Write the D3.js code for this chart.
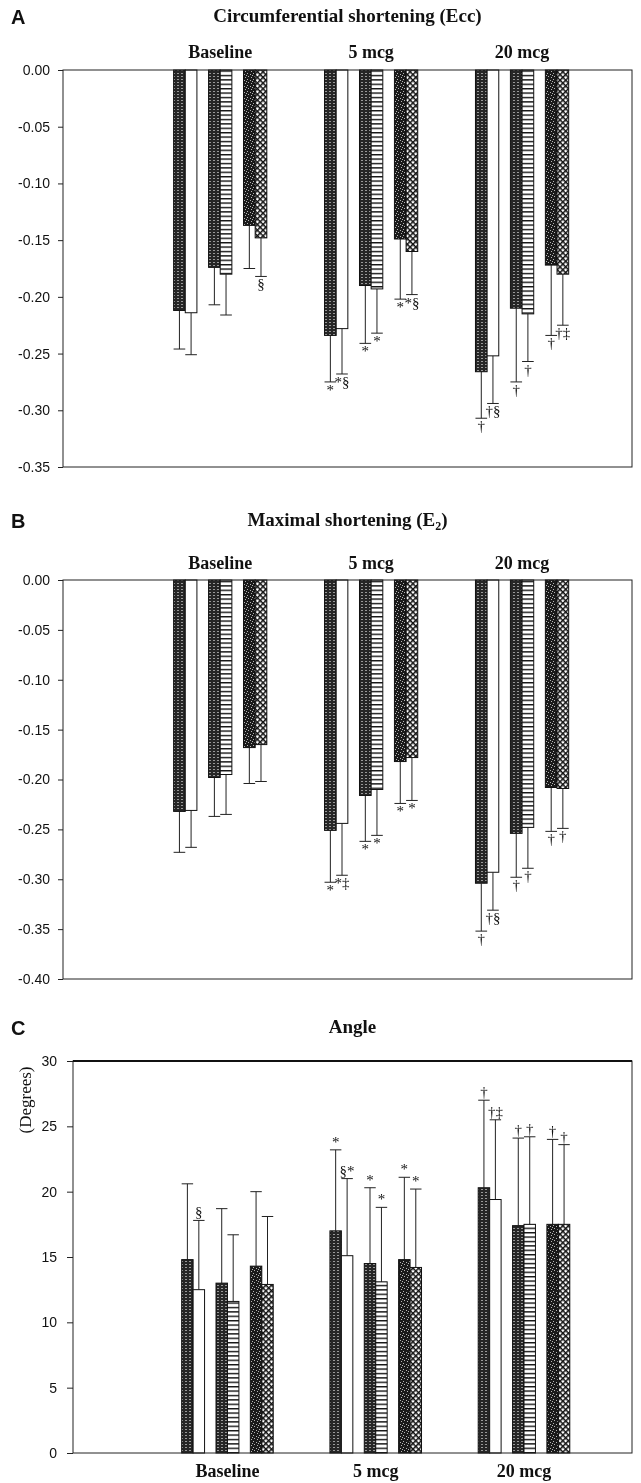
<!DOCTYPE html>
<html>
<head>
<meta charset="utf-8">
<script src="https://cdn.jsdelivr.net/npm/d3@7"></script>
<style>
  body { margin: 0; background: #fff; }
  svg { display: block; filter: grayscale(1); }
</style>
</head>
<body>
<svg id="chart" width="641" height="1483"></svg>
<script>
var categories = ["Baseline", "5 mcg", "20 mcg"];

// A: circumferential shortening (Ecc), mean and SD, six bars per group
var eccMean = [
  [-0.212, -0.214, -0.174, -0.180, -0.137, -0.148],
  [-0.234, -0.228, -0.190, -0.193, -0.149, -0.160],
  [-0.266, -0.252, -0.210, -0.215, -0.172, -0.180]
];
var eccSd = [
  [0.034, 0.037, 0.033, 0.036, 0.038, 0.034],
  [0.041, 0.040, 0.051, 0.039, 0.053, 0.038],
  [0.041, 0.042, 0.065, 0.042, 0.062, 0.045]
];
var eccNotes = [
  ["", "", "", "", "", "§"],
  ["*", "*§", "*", "*", "*", "*§"],
  ["†", "†§", "†", "†", "†", "†‡"]
];
var eccTicks = [0, -0.05, -0.10, -0.15, -0.20, -0.25, -0.30, -0.35];

// B: maximal shortening (E2)
var e2Mean = [
  [-0.232, -0.231, -0.198, -0.195, -0.168, -0.165],
  [-0.251, -0.244, -0.216, -0.210, -0.182, -0.178],
  [-0.304, -0.293, -0.254, -0.248, -0.208, -0.209]
];
var e2Sd = [
  [0.041, 0.037, 0.039, 0.040, 0.036, 0.037],
  [0.052, 0.052, 0.046, 0.046, 0.042, 0.043],
  [0.048, 0.038, 0.044, 0.041, 0.044, 0.040]
];
var e2Notes = [
  ["", "", "", "", "", ""],
  ["*", "*‡", "*", "*", "*", "*"],
  ["†", "†§", "†", "†", "†", "†"]
];
var e2Ticks = [0, -0.05, -0.10, -0.15, -0.20, -0.25, -0.30, -0.35, -0.40];

// C: angle (degrees)
var angleMean = [
  [14.8, 12.5, 13.0, 11.6, 14.3, 12.9],
  [17.0, 15.1, 14.5, 13.1, 14.8, 14.2],
  [20.3, 19.4, 17.4, 17.5, 17.5, 17.5]
];
var angleSd = [
  [5.8, 5.3, 5.7, 5.1, 5.7, 5.2],
  [6.2, 5.9, 5.8, 5.7, 6.3, 6.0],
  [6.7, 6.1, 6.7, 6.7, 6.5, 6.1]
];
var angleNotes = [
  ["", "§", "", "", "", ""],
  ["*", "§*", "*", "*", "*", "*"],
  ["†", "†‡", "†", "†", "†", "†"]
];
var angleTicks = [0, 5, 10, 15, 20, 25, 30];

var serif = "'Liberation Serif', 'Times New Roman', serif";
var sans = "'Liberation Sans', Arial, sans-serif";

var svg = d3.select("#chart");
var defs = svg.append("defs");

// hatch fills for the six bars
var stip = defs.append("pattern").attr("id", "stip")
  .attr("patternUnits", "userSpaceOnUse").attr("width", 4).attr("height", 3);
stip.append("rect").attr("width", 4).attr("height", 3).attr("fill", "#262626");
stip.append("rect").attr("x", 1).attr("y", 1).attr("width", 2).attr("height", 1).attr("fill", "#999");

var speck = defs.append("pattern").attr("id", "speck")
  .attr("patternUnits", "userSpaceOnUse").attr("width", 6).attr("height", 6);
speck.append("rect").attr("width", 6).attr("height", 6).attr("fill", "#1a1a1a");
[[1, 1], [4, 2], [2, 4], [5, 5], [0, 3]].forEach(function(p) {
  speck.append("rect").attr("x", p[0]).attr("y", p[1]).attr("width", 1).attr("height", 1).attr("fill", "#b5b5b5");
});

var lines = defs.append("pattern").attr("id", "lines")
  .attr("patternUnits", "userSpaceOnUse").attr("width", 4).attr("height", 4.4);
lines.append("rect").attr("width", 4).attr("height", 4.4).attr("fill", "#fff");
lines.append("rect").attr("width", 4).attr("height", 1.4).attr("fill", "#111");

// diagonal crosshatch, white diamonds in a black net
var hatch = defs.append("pattern").attr("id", "hatch")
  .attr("patternUnits", "userSpaceOnUse").attr("width", 4).attr("height", 4)
  .attr("patternTransform", "rotate(45)");
hatch.append("rect").attr("width", 4).attr("height", 4).attr("fill", "#fff");
hatch.append("rect").attr("width", 1.5).attr("height", 4).attr("fill", "#111");
hatch.append("rect").attr("width", 4).attr("height", 1.5).attr("fill", "#111");

var fills = ["url(#stip)", "#fff", "url(#stip)", "url(#lines)", "url(#speck)", "url(#hatch)"];
var slots = [0, 1, 3, 4, 6, 7];

function drawPanel(p) {
  var w = p.right - p.left;
  var x = d3.scalePoint().domain(categories)
    .range([p.left + 0.2763 * w, p.left + 0.8068 * w]);
  var slot = d3.scaleBand().domain(d3.range(8))
    .range([-0.3088 * x.step(), 0.3088 * x.step()]);
  var y = d3.scaleLinear().domain(p.domain).range([p.bottom, p.top]);
  var g = svg.append("g");

  var rows = [];
  categories.forEach(function(c, i) {
    p.mean[i].forEach(function(m, j) {
      rows.push({ cat: c, j: j, mean: m, sd: p.sd[i][j], note: p.notes[i][j] });
    });
  });
  function cx(d) { return x(d.cat) + slot(slots[d.j]) + slot.bandwidth() / 2; }
  function end(d) { return d.mean < 0 ? d.mean - d.sd : d.mean + d.sd; }

  // error bars first, bars over them
  var err = g.append("g").attr("stroke", "#222").attr("stroke-width", 1);
  err.selectAll(".stem").data(rows).enter().append("line")
    .attr("x1", cx).attr("x2", cx)
    .attr("y1", function(d) { return y(d.mean); })
    .attr("y2", function(d) { return y(end(d)); });
  err.selectAll(".cap").data(rows).enter().append("line")
    .attr("x1", function(d) { return cx(d) - slot.bandwidth() / 2; })
    .attr("x2", function(d) { return cx(d) + slot.bandwidth() / 2; })
    .attr("y1", function(d) { return y(end(d)); })
    .attr("y2", function(d) { return y(end(d)); });

  g.selectAll(".bar").data(rows).enter().append("rect")
    .attr("x", function(d) { return x(d.cat) + slot(slots[d.j]); })
    .attr("width", slot.bandwidth())
    .attr("y", function(d) { return Math.min(y(d.mean), y(0)); })
    .attr("height", function(d) { return Math.abs(y(d.mean) - y(0)); })
    .attr("fill", function(d) { return fills[d.j]; })
    .attr("stroke", "#111").attr("stroke-width", 1);

  g.selectAll(".note").data(rows.filter(function(d) { return d.note; })).enter().append("text")
    .attr("x", cx)
    .attr("y", function(d) { return y(end(d)) + (d.mean < 0 ? 13 : -3); })
    .attr("text-anchor", "middle")
    .attr("font-family", serif).attr("font-size", 15).attr("fill", "#111")
    .text(function(d) { return d.note; });

  // frame
  g.append("rect")
    .attr("x", p.left).attr("y", p.top)
    .attr("width", w).attr("height", p.bottom - p.top)
    .attr("fill", "none").attr("stroke", "#222").attr("stroke-width", 1);
  if (p.thickTop) {
    g.append("line").attr("x1", p.left).attr("x2", p.right)
      .attr("y1", p.top).attr("y2", p.top)
      .attr("stroke", "#111").attr("stroke-width", 2.2);
  }

  var axis = g.append("g").attr("transform", "translate(" + p.left + ",0)")
    .call(d3.axisLeft(y).tickValues(p.ticks).tickSize(p.tickSize).tickPadding(p.tickPad)
      .tickFormat(p.format));
  axis.select(".domain").remove();
  axis.attr("font-family", sans).attr("font-size", 14);
  axis.selectAll("line").attr("stroke", "#222");
  axis.selectAll("text").attr("fill", "#111");

  // category labels, above for A and B, below for C
  g.selectAll(".cat").data(categories).enter().append("text")
    .attr("x", function(c) { return x(c); })
    .attr("y", p.catY)
    .attr("text-anchor", "middle")
    .attr("font-family", serif).attr("font-weight", "bold").attr("font-size", 18)
    .attr("fill", "#111")
    .text(function(c) { return c; });

  var title = g.append("text")
    .attr("x", p.left + w / 2).attr("y", p.titleY)
    .attr("text-anchor", "middle")
    .attr("font-family", serif).attr("font-weight", "bold").attr("font-size", 19)
    .attr("fill", "#111");
  p.title(title);

  g.append("text")
    .attr("x", 11).attr("y", p.titleY + 2)
    .attr("font-family", sans).attr("font-weight", "bold").attr("font-size", 20)
    .attr("fill", "#111")
    .text(p.letter);
  return g;
}

var fmt2 = function(d) { return d3.format(".2f")(d).replace("−", "-"); };

drawPanel({
  letter: "A", left: 63, right: 632, top: 70, bottom: 467,
  domain: [-0.35, 0], ticks: eccTicks, format: fmt2, tickSize: 5, tickPad: 8,
  mean: eccMean, sd: eccSd, notes: eccNotes,
  titleY: 22, catY: 58,
  title: function(t) { t.text("Circumferential shortening (Ecc)"); }
});

drawPanel({
  letter: "B", left: 63, right: 632, top: 580, bottom: 979,
  domain: [-0.40, 0], ticks: e2Ticks, format: fmt2, tickSize: 5, tickPad: 8,
  mean: e2Mean, sd: e2Sd, notes: e2Notes,
  titleY: 526, catY: 569,
  title: function(t) {
    t.append("tspan").text("Maximal shortening (E");
    t.append("tspan").attr("dy", 4).attr("font-size", 12).text("2");
    t.append("tspan").attr("dy", -4).text(")");
  }
});

var c = drawPanel({
  letter: "C", left: 73, right: 632, top: 1061, bottom: 1453, thickTop: true,
  domain: [0, 30], ticks: angleTicks, format: d3.format("d"), tickSize: 6, tickPad: 10,
  mean: angleMean, sd: angleSd, notes: angleNotes,
  titleY: 1033, catY: 1477,
  title: function(t) { t.text("Angle"); }
});

c.append("text")
  .attr("transform", "translate(31,1100) rotate(-90)")
  .attr("text-anchor", "middle")
  .attr("font-family", serif).attr("font-size", 17).attr("fill", "#111")
  .text("(Degrees)");
</script>
</body>
</html>
